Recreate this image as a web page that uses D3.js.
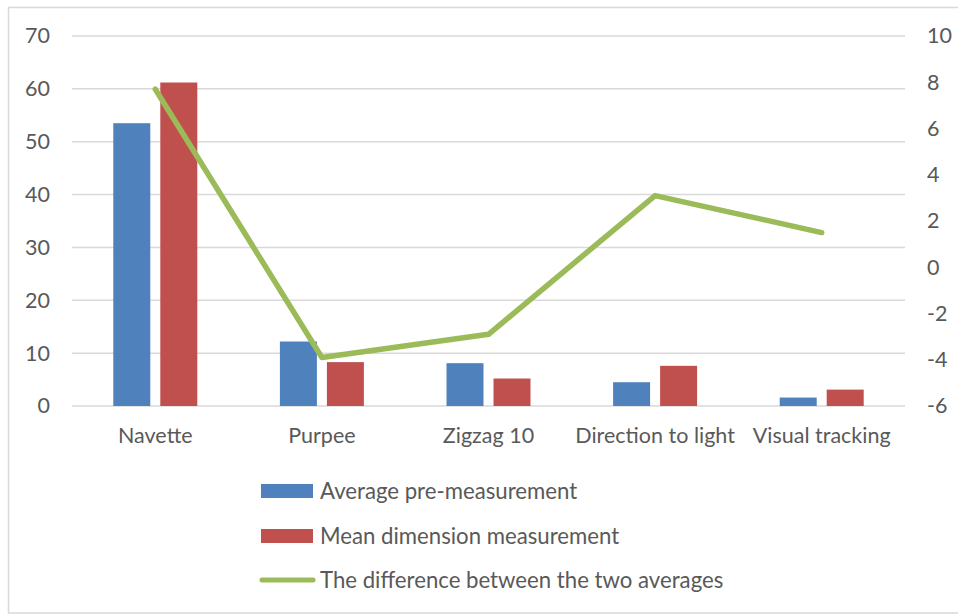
<!DOCTYPE html>
<html>
<head>
<meta charset="utf-8">
<script src="https://cdn.jsdelivr.net/npm/d3@7"></script>
<style>
  html, body { margin: 0; padding: 0; background: #fff; }
  svg { display: block; }
  text { font-family: Lato, "Open Sans", sans-serif; fill: #595959; }
</style>
</head>
<body>
<svg id="chart" width="958" height="615"></svg>
<script>
// Test categories
const categories = ["Navette", "Purpee", "Zigzag 10", "Direction to light", "Visual tracking"];
// Series values
const preMeasurement = [53.5, 12.2, 8.1, 4.5, 1.6];
const meanMeasurement = [61.2, 8.3, 5.2, 7.6, 3.1];
const differenceOfAverages = [7.7, -3.9, -2.9, 3.1, 1.5];
// Axis ticks
const leftTicks = [0, 10, 20, 30, 40, 50, 60, 70];
const rightTicks = [-6, -4, -2, 0, 2, 4, 6, 8, 10];
// Series names
const seriesNames = ["Average pre-measurement", "Mean dimension measurement", "The difference between the two averages"];

const colors = { pre: "#4F81BD", mean: "#C0504D", diff: "#9BBB59" };
const fontSize = 21.5;
const legendFontSize = 22.2;
const plainNumber = d => String(d);

const svg = d3.select("#chart");

// Outer chart frame
svg.append("rect")
  .attr("x", 8.5).attr("y", 7.5)
  .attr("width", 970).attr("height", 605.5)
  .attr("fill", "#fff").attr("stroke", "#d9d9d9").attr("stroke-width", 1.5);

const plot = { left: 72, right: 905, top: 36, bottom: 406 };

const x0 = d3.scaleBand().domain(categories).range([plot.left, plot.right]).padding(0);
const yLeft = d3.scaleLinear().domain([0, 70]).range([plot.bottom, plot.top]);
const yRight = d3.scaleLinear().domain([-6, 10]).range([plot.bottom, plot.top]);

// Bars inside each category group
const groupHalf = 42;
const x1 = d3.scaleBand().domain(["pre", "mean"]).range([-groupHalf, groupHalf])
  .paddingInner(10 / 47).paddingOuter(0);

// Horizontal gridlines
svg.append("g").selectAll("line").data(leftTicks).join("line")
  .attr("x1", plot.left).attr("x2", plot.right)
  .attr("y1", d => yLeft(d)).attr("y2", d => yLeft(d))
  .attr("stroke", "#d9d9d9").attr("stroke-width", 1.5);

// Left axis
const leftAxis = svg.append("g")
  .attr("transform", `translate(50,0)`)
  .call(d3.axisLeft(yLeft).tickValues(leftTicks).tickFormat(plainNumber).tickSize(0).tickPadding(0));
leftAxis.select(".domain").remove();
leftAxis.selectAll("text").attr("font-size", fontSize).attr("font-family", "Lato").attr("fill", "#595959");

// Right axis
const rightAxis = svg.append("g")
  .attr("transform", `translate(927,0)`)
  .call(d3.axisRight(yRight).tickValues(rightTicks).tickFormat(plainNumber).tickSize(0).tickPadding(0));
rightAxis.select(".domain").remove();
rightAxis.selectAll("text").attr("font-size", fontSize).attr("font-family", "Lato").attr("fill", "#595959");

// Category axis labels
const bottomAxis = svg.append("g")
  .attr("transform", `translate(0,${plot.bottom + 22})`)
  .call(d3.axisBottom(x0).tickSize(0).tickPadding(0));
bottomAxis.select(".domain").remove();
bottomAxis.selectAll("text").attr("font-size", fontSize).attr("font-family", "Lato").attr("fill", "#595959")
  .attr("dy", "0.71em");

// Bars
const groups = svg.append("g").selectAll("g").data(categories).join("g")
  .attr("transform", d => `translate(${x0(d) + x0.bandwidth() / 2},0)`);

groups.append("rect")
  .attr("x", x1("pre")).attr("width", x1.bandwidth())
  .attr("y", (d, i) => yLeft(preMeasurement[i]))
  .attr("height", (d, i) => yLeft(0) - yLeft(preMeasurement[i]))
  .attr("fill", colors.pre);

groups.append("rect")
  .attr("x", x1("mean")).attr("width", x1.bandwidth())
  .attr("y", (d, i) => yLeft(meanMeasurement[i]))
  .attr("height", (d, i) => yLeft(0) - yLeft(meanMeasurement[i]))
  .attr("fill", colors.mean);

// Difference line on the secondary axis
const line = d3.line()
  .x((d, i) => x0(categories[i]) + x0.bandwidth() / 2)
  .y(d => yRight(d));

svg.append("path")
  .datum(differenceOfAverages)
  .attr("d", line)
  .attr("fill", "none")
  .attr("stroke", colors.diff)
  .attr("stroke-width", 5.5)
  .attr("stroke-linejoin", "round")
  .attr("stroke-linecap", "round");

// Legend
const legend = svg.append("g").attr("transform", "translate(261,0)");
const legendRows = [
  { name: seriesNames[0], type: "rect", color: colors.pre, y: 491 },
  { name: seriesNames[1], type: "rect", color: colors.mean, y: 536 },
  { name: seriesNames[2], type: "line", color: colors.diff, y: 580 }
];
legendRows.forEach(r => {
  if (r.type === "rect") {
    legend.append("rect").attr("x", 0).attr("y", r.y - 7).attr("width", 52).attr("height", 14).attr("fill", r.color);
  } else {
    legend.append("line").attr("x1", 1).attr("x2", 52).attr("y1", r.y).attr("y2", r.y)
      .attr("stroke", r.color).attr("stroke-width", 5).attr("stroke-linecap", "round");
  }
  legend.append("text").attr("x", 59).attr("y", r.y).attr("dy", "0.35em")
    .attr("font-size", legendFontSize).text(r.name);
});
</script>
</body>
</html>
